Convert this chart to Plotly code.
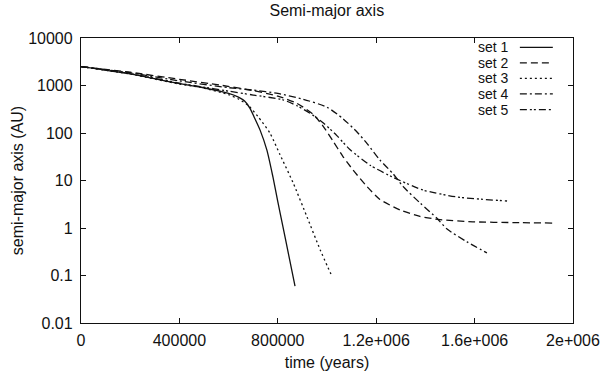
import plotly.graph_objects as go

# ---- data (time in years, semi-major axis in AU) ----
set1_t = [0, 200000, 400000, 484000, 600000, 640000, 665000, 687000, 705000, 728000, 756000, 780000, 800000,
          821000, 845000, 870000]
set1_a = [2500, 1750, 1100, 930, 680, 570, 470, 330, 210, 115, 43, 12, 3.6, 1.05, 0.26, 0.06]

set2_t = [0, 200000, 400000, 565000, 700000, 800000, 878000, 943000, 984000, 1024000, 1065000, 1106000,
          1163000, 1215000, 1297000, 1378000, 1459000, 1593000, 1760000, 1919000]
set2_a = [2500, 1900, 1350, 1020, 780, 600, 420, 250, 140, 68, 32, 16.6,
          7.4, 4.0, 2.4, 1.75, 1.5, 1.35, 1.30, 1.27]

set3_t = [0, 200000, 400000, 484000, 600000, 640000, 680000, 720000, 768000, 809000, 862000, 919000, 972000,
          1016000]
set3_a = [2500, 1740, 1070, 920, 640, 520, 380, 220, 100, 35, 9, 1.7, 0.35, 0.107]

set4_t = [0, 200000, 400000, 600000, 700000, 800000, 900000, 1000000, 1065000, 1122000, 1163000,
          1215000, 1268000, 1309000, 1380000, 1447000, 1488000, 1569000, 1650000]
set4_a = [2500, 1850, 1250, 900, 800, 680, 520, 350, 200, 105, 60,
          27, 14, 7.5, 3.3, 1.6, 0.95, 0.51, 0.30]

set5_t = [0, 200000, 400000, 484000, 600000, 700000, 821000, 880000, 931000, 984000, 1040000, 1093000,
          1175000, 1268000, 1390000, 1528000, 1732000]
set5_a = [2500, 1780, 1120, 950, 760, 630, 500, 370, 260, 165, 88, 45,
          21, 11.7, 6.3, 4.5, 3.7]

series_names = ["set 1", "set 2", "set 3", "set 4", "set 5"]
series_dash = ["solid", "7px,4px", "2px,3px", "7px,3px,2px,3px", "7px,3px,2px,2px,2px,3px"]

x_tickvals = [0, 400000, 800000, 1200000, 1600000, 2000000]
x_ticktext = ["0", "400000", "800000", "1.2e+006", "1.6e+006", "2e+006"]
y_tickvals = [0.01, 0.1, 1, 10, 100, 1000, 10000]
y_ticktext = ["0.01", "0.1", "1", "10", "100", "1000", "10000"]

FONT = "Liberation Sans, Arial, sans-serif"
INK = "#111111"

fig = go.Figure()
data = [(set1_t, set1_a), (set2_t, set2_a), (set3_t, set3_a), (set4_t, set4_a), (set5_t, set5_a)]
for (t, a), name, dash in zip(data, series_names, series_dash):
    fig.add_trace(go.Scatter(x=t, y=a, mode="lines", name=name,
                             line=dict(color=INK, width=1.3, dash=dash, shape="spline", smoothing=0.6),
                             showlegend=False))

# custom gnuplot-style key: text on the left, line sample on the right
row_y = [0.967, 0.913, 0.858, 0.804, 0.749]
for name, dash, yy in zip(series_names, series_dash, row_y):
    fig.add_annotation(x=0.874, y=yy, xref="paper", yref="paper", text=name, showarrow=False,
                       xanchor="right", yanchor="middle", font=dict(family=FONT, size=14, color=INK))
    fig.add_shape(type="line", xref="paper", yref="paper", x0=0.892, x1=0.959, y0=yy, y1=yy,
                  line=dict(color=INK, width=1.3, dash=dash))

axis_common = dict(showline=True, linecolor=INK, linewidth=1.3, mirror="ticks", ticks="inside",
                   ticklen=5, tickcolor=INK, showgrid=False, zeroline=False,
                   tickfont=dict(family=FONT, size=16, color=INK))

fig.update_xaxes(range=[0, 2000000], tickvals=x_tickvals, ticktext=x_ticktext, ticklabelstandoff=3,
                 title=dict(text="time (years)", font=dict(family=FONT, size=16, color=INK), standoff=8),
                 **axis_common)
fig.update_yaxes(type="log", range=[-2, 4], tickvals=y_tickvals, ticktext=y_ticktext, ticklabelstandoff=4,
                 title=dict(text="semi-major axis (AU)", font=dict(family=FONT, size=16, color=INK), standoff=0),
                 **axis_common)

fig.update_layout(
    width=603, height=373,
    margin=dict(l=81, r=30, t=38, b=50, autoexpand=False),
    paper_bgcolor="white", plot_bgcolor="white",
    title=dict(text="Semi-major axis", x=0.542, xanchor="center", y=0.972, yanchor="middle",
               font=dict(family=FONT, size=16, color=INK)),
    font=dict(family=FONT, size=16, color=INK),
)

fig.write_html("out.html")
